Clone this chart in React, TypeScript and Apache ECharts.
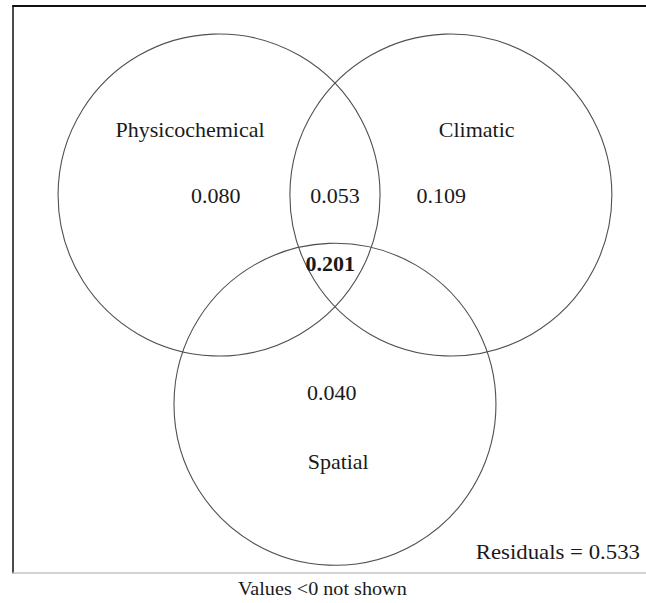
import React, { useEffect, useRef } from "react";
import * as echarts from "echarts";

// Venn sets (layout in radius units)
const setNames = ["Physicochemical", "Climatic", "Spatial"];
const setCenterX = [-0.72, 0.72, 0];
const setCenterY = [0, 0, -1.3];
const setRadius = [1, 1, 1];
const setLabelX = [-0.9, 0.88, 0.02];
const setLabelY = [0.4, 0.4, -1.66];

// Fractions (region values)
const regionNames = ["Physicochemical only", "Physicochemical & Climatic", "Climatic only", "All three", "Spatial only"];
const regionValues = [0.08, 0.053, 0.109, 0.201, 0.04];
const regionX = [-0.74, 0, 0.66, -0.03, -0.02];
const regionY = [-0.01, -0.01, -0.01, -0.43, -1.23];
const regionBold = [false, false, false, true, false];

const residualValue = 0.533;
const footnote = "Values <0 not shown";

const FAMILY = "\"Liberation Serif\", \"DejaVu Serif\", serif";

export default function App() {
  const ref = useRef<HTMLDivElement>(null);
  useEffect(() => {
    document.body.style.margin = "0";
    if (!ref.current) return;
    const chart = echarts.init(ref.current, undefined, { renderer: "svg" });
    const circleData = setNames.map((n, i) => [setCenterX[i], setCenterY[i], setRadius[i]]);
    const setLabelData = setNames.map((n, i) => [setLabelX[i], setLabelY[i]]);
    const regionData = regionValues.map((v, i) => [regionX[i], regionY[i], v]);
    const makeText = (p: number[], text: string, bold: boolean) => ({
      type: "text",
      x: p[0],
      y: p[1],
      scaleX: 1.1,
      style: {
        text,
        font: (bold ? "bold " : "") + "20px " + FAMILY,
        fill: "#1a1a1a",
        align: "center",
        verticalAlign: "middle",
      },
    });
    chart.setOption({
      animation: false,
      backgroundColor: "#ffffff",
      grid: { left: 13, right: 0, top: 6, bottom: 30 },
      xAxis: [
        {
          type: "value",
          min: -2.0,
          max: 1.932,
          position: "bottom",
          axisLine: { show: true, onZero: false, lineStyle: { color: "#c4c4c4", width: 1.5 } },
          axisTick: { show: false },
          axisLabel: { show: false },
          splitLine: { show: false },
        },
        {
          type: "value",
          min: -2.0,
          max: 1.932,
          position: "top",
          axisLine: { show: true, onZero: false, lineStyle: { color: "#111111", width: 2 } },
          axisTick: { show: false },
          axisLabel: { show: false },
          splitLine: { show: false },
        },
      ],
      yAxis: {
        type: "value",
        min: -2.348,
        max: 1.174,
        axisLine: { show: true, onZero: false, lineStyle: { color: "#111111", width: 1.5 } },
        axisTick: { show: false },
        axisLabel: { show: false },
        splitLine: { show: false },
      },
      series: [
        {
          type: "custom",
          name: "sets",
          data: circleData,
          renderItem: (params: any, api: any) => {
            const c = api.coord([api.value(0), api.value(1)]);
            const r = api.size([api.value(2), 0])[0];
            return {
              type: "circle",
              shape: { cx: c[0], cy: c[1], r },
              style: { fill: "none", stroke: "#505050", lineWidth: 1.1 },
            };
          },
        },
        {
          type: "custom",
          name: "setLabels",
          data: setLabelData,
          renderItem: (params: any, api: any) =>
            makeText(api.coord([api.value(0), api.value(1)]), setNames[params.dataIndex], false),
        },
        {
          type: "custom",
          name: "regions",
          data: regionData,
          renderItem: (params: any, api: any) =>
            makeText(
              api.coord([api.value(0), api.value(1)]),
              regionValues[params.dataIndex].toFixed(3),
              regionBold[params.dataIndex]
            ),
        },
      ],
      graphic: [
        {
          type: "text",
          right: 6,
          top: 542,
          scaleX: 1.14,
          style: {
            text: "Residuals = " + residualValue.toFixed(3),
            font: "20px " + FAMILY,
            fill: "#1a1a1a",
          },
        },
        {
          type: "text",
          left: 238,
          top: 580,
          scaleX: 1.12,
          style: {
            text: footnote,
            font: "18px " + FAMILY,
            fill: "#1a1a1a",
          },
        },
      ],
    });
    return () => chart.dispose();
  }, []);
  return <div ref={ref} style={{ width: 646, height: 603 }} />;
}
